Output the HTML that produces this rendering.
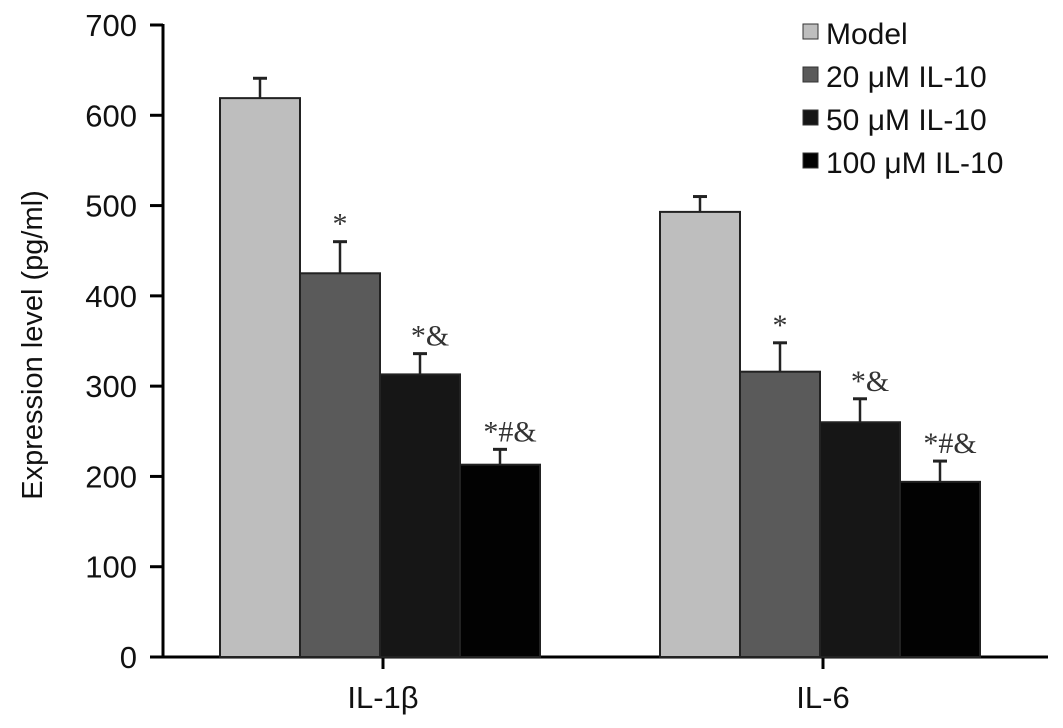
<!DOCTYPE html>
<html><head><meta charset="utf-8"><style>
body{margin:0;background:#fff;}
svg{display:block;font-family:"Liberation Sans",sans-serif;}
</style></head><body>
<svg id="chart" width="1063" height="728"></svg>
<script>
const categories=["IL-1β","IL-6"];
const seriesNames=["Model","20 μM IL-10","50 μM IL-10","100 μM IL-10"];
const values=[[619,425,313,213],[493,316,260,194]];
const errors=[[22,35,23,17],[17,32,26,23]];
const marks=[["","*","*&","*#&"],["","*","*&","*#&"]];
const yTicks=[0,100,200,300,400,500,600,700];
const colors=["#bebebe","#5a5a5a","#161616","#020202"];
const NS="http://www.w3.org/2000/svg";
const svg=document.getElementById("chart");
function el(t,a,p){const e=document.createElementNS(NS,t);for(const k in a)e.setAttribute(k,a[k]);(p||svg).appendChild(e);return e;}
const y0=657,yTop=25,yMax=700;
const y=v=>y0-(v/yMax)*(y0-yTop);
const groupCenters=[380,820];
const bw=80;
const xBar=(g,s)=>groupCenters[g]-2*bw+s*bw;
let a=el("line",{x1:163,y1:y0,x2:1048,y2:y0,stroke:"#000","stroke-width":3});


a=el("line",{x1:163,y1:y0+1,x2:163,y2:yTop-1,stroke:"#000","stroke-width":3});


yTicks.forEach(t=>{
 const l=el("line",{x1:150,y1:y(t),x2:163,y2:y(t),stroke:"#000","stroke-width":3});
 
 
 const tx=el("text",{x:137,y:y(t)+11,"text-anchor":"end","font-size":31,fill:"#111"});
 tx.textContent=t;
 
 
});
const yt=el("text",{x:0,y:0,transform:"translate(42,345) rotate(-90)","text-anchor":"middle","font-size":29,fill:"#111"});
yt.textContent="Expression level (pg/ml)";


categories.forEach((c,g)=>{
 const l=el("line",{x1:groupCenters[g]+3,y1:y0,x2:groupCenters[g]+3,y2:y0+12,stroke:"#000","stroke-width":3});
 
 
 const tx=el("text",{x:groupCenters[g]+3,y:708,"text-anchor":"middle","font-size":31,fill:"#111"});
 tx.textContent=c;
 
 
 values[g].forEach((v,s)=>{
  const x=xBar(g,s),cx=x+bw/2;
  const e=el("line",{x1:cx,y1:y(v),x2:cx,y2:y(v+errors[g][s]),stroke:"#222","stroke-width":2.5});
  
  
  const cap=el("line",{x1:cx-7,y1:y(v+errors[g][s]),x2:cx+7,y2:y(v+errors[g][s]),stroke:"#222","stroke-width":3});
  
  
  const r=el("rect",{x:x,y:y(v),width:bw,height:y0-y(v),fill:colors[s],stroke:"#222","stroke-width":2});
  
  
  if(marks[g][s]){
   const m=el("text",{x:cx+(marks[g][s].length>1?10:0),y:y(v+errors[g][s])-8,"text-anchor":"middle","font-size":30,fill:"#333","font-family":"Liberation Serif,serif"});
   m.textContent=marks[g][s];
   
   
  }
 });
});
seriesNames.forEach((n,s)=>{
 const ly=33+s*43;
 const r=el("rect",{x:803,y:ly-9,width:15,height:15,fill:colors[s],stroke:"#333","stroke-width":1});
 
 
 const t=el("text",{x:826,y:ly+11,"font-size":30,fill:"#111"});
 t.textContent=n;
 
 
});
</script>
</body></html>
